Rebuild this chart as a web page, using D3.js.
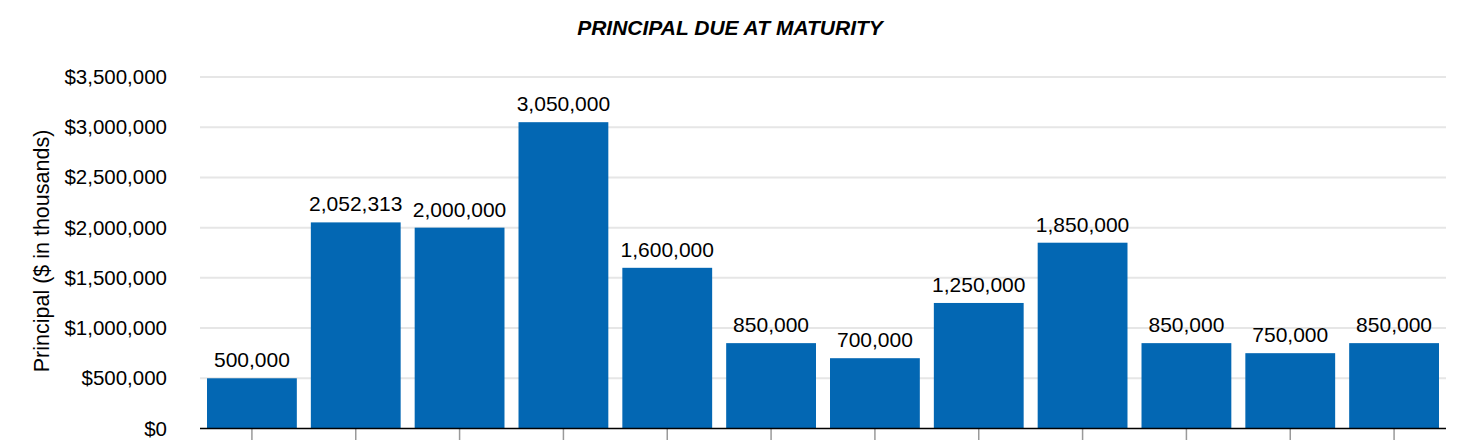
<!DOCTYPE html>
<html>
<head>
<meta charset="utf-8">
<script src="https://cdn.jsdelivr.net/npm/d3@7/dist/d3.min.js"></script>
<style>
  html, body { margin: 0; padding: 0; background: #ffffff; }
  svg { display: block; font-family: "Liberation Sans", Arial, Helvetica, sans-serif; }
</style>
</head>
<body>
<svg id="chart" width="1466" height="440"></svg>
<script>
// ---- data ----
const categories = ["2025", "2026", "2027", "2028", "2029", "2030", "2031", "2032", "2033", "2034", "2035", "2036"];
const principal = [500000, 2052313, 2000000, 3050000, 1600000, 850000, 700000, 1250000, 1850000, 850000, 750000, 850000];
const yTicks = [0, 500000, 1000000, 1500000, 2000000, 2500000, 3000000, 3500000];
const chartTitle = "PRINCIPAL DUE AT MATURITY";
const yTitle = "Principal ($ in thousands)";

// ---- layout ----
const W = 1466, H = 440;
const m = { left: 200, right: 20 };
const plotBottom = 428.5;

const svg = d3.select("#chart");

const x = d3.scaleBand()
  .domain(categories)
  .range([m.left, W - m.right])
  .paddingInner(0.135)
  .paddingOuter(0.0675);

const y = d3.scaleLinear()
  .domain([0, 3500000])
  .range([plotBottom, 77]);

// gridlines
svg.append("g")
  .selectAll("line")
  .data(yTicks.filter(d => d > 0))
  .join("line")
  .attr("x1", m.left)
  .attr("x2", W - m.right)
  .attr("y1", d => y(d))
  .attr("y2", d => y(d))
  .attr("stroke", "#e6e6e6")
  .attr("stroke-width", 2);

// y axis labels
const yAxis = d3.axisLeft(y)
  .tickValues(yTicks)
  .tickSize(0)
  .tickPadding(33)
  .tickFormat(d => "$" + d3.format(",")(d));
const gy = svg.append("g")
  .attr("transform", `translate(${m.left},0)`)
  .call(yAxis);
gy.select(".domain").remove();
gy.selectAll("text")
  .attr("font-size", "20.5px")
  .attr("fill", "#000")
  .attr("font-family", "Liberation Sans, Arial, sans-serif");

// bars
svg.append("g")
  .selectAll("rect")
  .data(principal)
  .join("rect")
  .attr("x", (d, i) => x(categories[i]))
  .attr("width", x.bandwidth())
  .attr("y", d => y(d))
  .attr("height", d => plotBottom - y(d))
  .attr("fill", "#0367b3");

// data labels
svg.append("g")
  .selectAll("text")
  .data(principal)
  .join("text")
  .attr("x", (d, i) => x(categories[i]) + x.bandwidth() / 2)
  .attr("y", d => y(d) - 11)
  .attr("text-anchor", "middle")
  .attr("font-size", "21px")
  .attr("fill", "#000")
  .text(d => d3.format(",")(d));

// x axis (category labels fall below the visible area in the reference, so only ticks are drawn)
const xAxis = d3.axisBottom(x)
  .tickSize(12)
  .tickFormat(() => "");
const gx = svg.append("g")
  .attr("transform", `translate(0,${plotBottom})`)
  .call(xAxis);
gx.select(".domain").remove();
gx.selectAll(".tick line").attr("stroke", "#9a9a9a").attr("stroke-width", 1.5);
gx.selectAll(".tick text").remove();
svg.append("line")
  .attr("x1", m.left)
  .attr("x2", W - m.right)
  .attr("y1", plotBottom)
  .attr("y2", plotBottom)
  .attr("stroke", "#000")
  .attr("stroke-width", 1.6);

// title
svg.append("text")
  .attr("x", 730)
  .attr("y", 35)
  .attr("text-anchor", "middle")
  .attr("font-size", "21px")
  .attr("font-weight", "bold")
  .attr("font-style", "italic")
  .attr("fill", "#000")
  .text(chartTitle);

// y title
svg.append("text")
  .attr("transform", `translate(49,251) rotate(-90)`)
  .attr("text-anchor", "middle")
  .attr("font-size", "21.5px")
  .attr("fill", "#000")
  .text(yTitle);
</script>
</body>
</html>
